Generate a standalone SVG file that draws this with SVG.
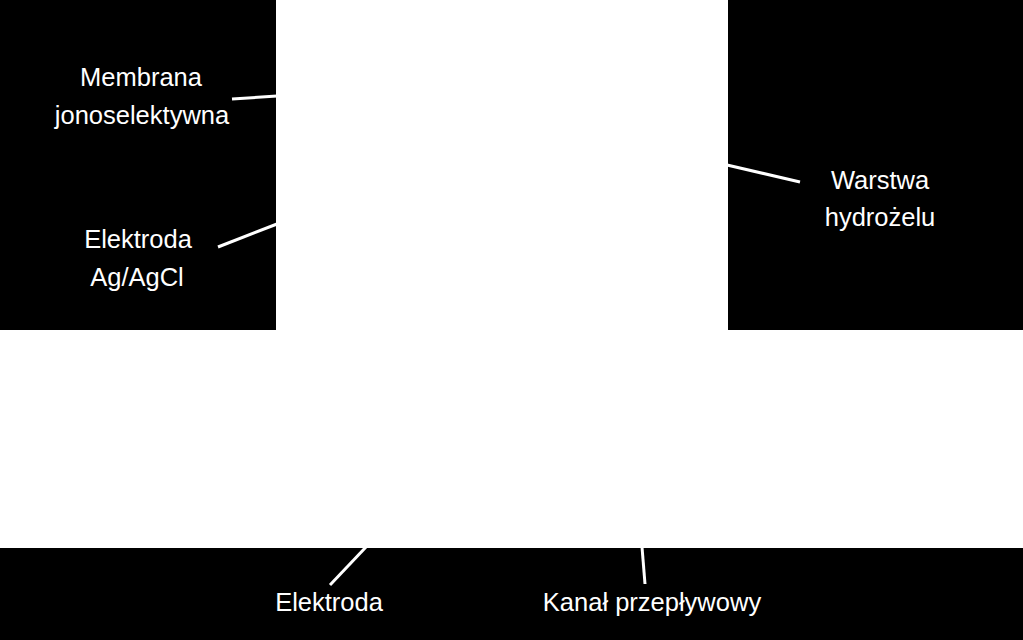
<svg xmlns="http://www.w3.org/2000/svg" width="1023" height="640" viewBox="0 0 1023 640">
<style>
.t{font-family:"Liberation Sans",Arial,sans-serif;font-size:25.5px;fill:#fff;text-anchor:middle}
.l{stroke:#fff;stroke-width:3;fill:none}
</style>
<rect width="1023" height="640" fill="#000"/>
<g id="panel">
<rect x="276" y="-6" width="452" height="346" rx="6" fill="#fff"/>
<rect x="0" y="330" width="1023" height="218" fill="#fff"/>
</g>
<g id="connectors">
<line class="l" x1="232" y1="99" x2="277" y2="96"/>
<line class="l" x1="218" y1="247" x2="277" y2="224"/>
<line class="l" x1="727" y1="165" x2="800" y2="182"/>
<line class="l" x1="330" y1="585" x2="366" y2="547"/>
<line class="l" x1="645" y1="584" x2="642" y2="547"/>
</g>
<g id="label-membrana"><text class="t" x="141" y="86">Membrana</text><text class="t" x="142" y="124">jonoselektywna</text></g>
<g id="label-agcl"><text class="t" x="138" y="248">Elektroda</text><text class="t" x="137" y="286">Ag/AgCl</text></g>
<g id="label-hydrozel"><text class="t" x="880" y="189">Warstwa</text><text class="t" x="880" y="226">hydrożelu</text></g>
<g id="label-elektroda"><text class="t" x="329" y="611">Elektroda</text></g>
<g id="label-kanal"><text class="t" x="652" y="611">Kanał przepływowy</text></g>
</svg>
